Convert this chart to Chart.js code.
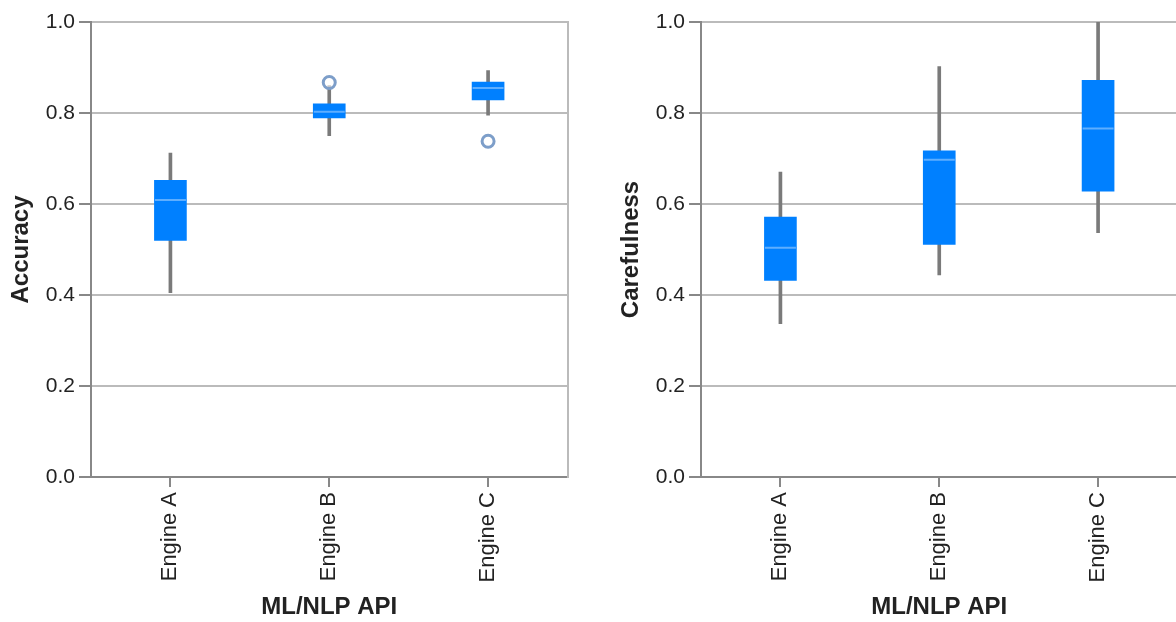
<!DOCTYPE html>
<html>
<head>
<meta charset="utf-8">
<script src="https://cdn.jsdelivr.net/npm/chart.js@4"></script>
<style>
  html, body { margin: 0; padding: 0; background: #fff; overflow: hidden; width: 1176px; height: 622px; }
  .wrap { position: absolute; top: 0; width: 585px; height: 622px; }
  #w1 { left: 0; }
  #w2 { left: 610px; }
</style>
</head>
<body>
<div class="wrap" id="w2"><canvas id="c2" width="585" height="622"></canvas></div>
<div class="wrap" id="w1"><canvas id="c1" width="585" height="622"></canvas></div>
<script>
const categories = ['Engine A', 'Engine B', 'Engine C'];

const accuracyLow    = [0.405, 0.750, 0.795];
const accuracyQ1     = [0.520, 0.789, 0.829];
const accuracyMedian = [0.609, 0.803, 0.855];
const accuracyQ3     = [0.652, 0.820, 0.868];
const accuracyHigh   = [0.712, 0.860, 0.893];
const accuracyOutliers = [null, 0.867, 0.738];

const carefulLow    = [0.337, 0.444, 0.537];
const carefulQ1     = [0.432, 0.511, 0.628];
const carefulMedian = [0.504, 0.697, 0.766];
const carefulQ3     = [0.571, 0.717, 0.872];
const carefulHigh   = [0.670, 0.902, 1.000];
const carefulOutliers = [null, null, null];

const yTickValues = [0, 0.2, 0.4, 0.6, 0.8, 1.0];
const xTitle = 'ML/NLP API';

Chart.defaults.font.family = "'Liberation Sans', Arial, Helvetica, sans-serif";
Chart.defaults.color = '#222';

function makeChart(id, yTitle, low, q1, med, q3, high, outliers) {
  const ctx = document.getElementById(id);
  return new Chart(ctx, {
    type: 'bar',
    data: {
      labels: categories,
      datasets: [
        {
          type: 'line', label: 'median', order: 0,
          data: med, showLine: false,
          pointStyle: 'line', pointRadius: 15.5, pointBorderWidth: 2,
          pointBorderColor: '#5eaeff', pointBackgroundColor: '#5eaeff'
        },
        {
          label: 'box', order: 1, grouped: false,
          data: q1.map((v, i) => [v, q3[i]]),
          backgroundColor: '#0080ff', borderWidth: 0, barThickness: 32
        },
        {
          type: 'line', label: 'outliers', order: 2,
          data: outliers, showLine: false,
          pointStyle: 'circle', pointRadius: 6, pointBorderWidth: 3,
          pointBorderColor: '#7d9ec9', pointBackgroundColor: 'rgba(255,255,255,0.6)'
        },
        {
          label: 'whisker', order: 3, grouped: false,
          data: low.map((v, i) => [v, high[i]]),
          backgroundColor: '#7a7a7a', borderWidth: 0, barThickness: 3
        }
      ]
    },
    options: {
      responsive: false,
      animation: false,
      events: [],
      layout: { padding: { left: 0, right: 12, top: 22, bottom: 0 } },
      plugins: { legend: { display: false }, tooltip: { enabled: false } },
      scales: {
        x: {
          type: 'category',
          offset: true,
          grid: { display: true, offset: false, drawOnChartArea: false, drawTicks: true,
                  tickLength: 10, tickColor: '#888', tickWidth: 2, lineWidth: 2 },
          border: { display: true, color: '#888', width: 2 },
          ticks: { minRotation: 90, maxRotation: 90, padding: 5, font: { size: 22 }, color: '#222' },
          title: { display: true, text: xTitle, font: { size: 24, weight: 'bold' }, color: '#222',
                   padding: { top: 0, bottom: 0 } },
          afterFit: (s) => { s.height = 145; s.paddingLeft = 0; s.paddingRight = 0; }
        },
        y: {
          type: 'linear', position: 'left',
          min: 0, max: 1,
          afterBuildTicks: (s) => { s.ticks = yTickValues.map(v => ({ value: v })); },
          grid: { color: '#bbbbbb', lineWidth: 2, drawTicks: true, tickLength: 12, tickColor: '#888', tickWidth: 2 },
          border: { display: true, color: '#888', width: 2 },
          ticks: { padding: 4, font: { size: 21 }, color: '#222', callback: (v) => Number(v).toFixed(1) },
          title: { display: true, text: yTitle, font: { size: 24, weight: 'bold' }, color: '#222',
                   padding: { top: 7, bottom: 0 } },
          afterFit: (s) => { s.width = 91; }
        },
        yr: {
          type: 'linear', position: 'right', min: 0, max: 1,
          grid: { display: false, drawOnChartArea: false, drawTicks: false },
          border: { display: true, color: '#bbbbbb', width: 2 },
          ticks: { display: false },
          afterFit: (s) => { s.width = 0; }
        }
      }
    }
  });
}

makeChart('c1', 'Accuracy', accuracyLow, accuracyQ1, accuracyMedian, accuracyQ3, accuracyHigh, accuracyOutliers);
makeChart('c2', 'Carefulness', carefulLow, carefulQ1, carefulMedian, carefulQ3, carefulHigh, carefulOutliers);
</script>
</body>
</html>
